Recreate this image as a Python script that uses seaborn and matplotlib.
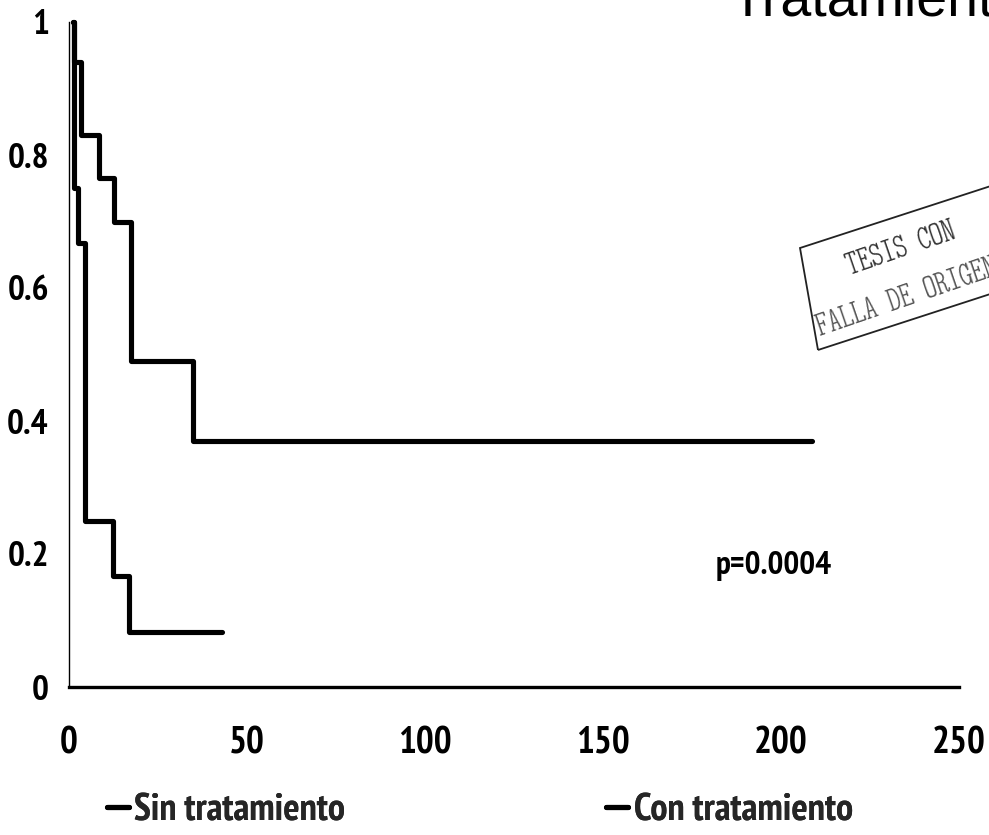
import matplotlib
matplotlib.use("Agg")
import matplotlib.pyplot as plt
from matplotlib.patches import Polygon
import numpy as np
import pandas as pd
import seaborn as sns

# Kaplan-Meier survival estimates (time in days, survival proportion)
sin_time = [1.0, 1.3, 2.4, 4.5, 12.4, 16.9, 43.0]
sin_surv = [1.0, 0.75, 0.667, 0.25, 0.167, 0.083, 0.083]
con_time = [1.0, 1.4, 3.3, 8.5, 12.7, 17.4, 34.8, 208.7]
con_surv = [1.0, 0.94, 0.83, 0.765, 0.70, 0.49, 0.37, 0.37]

series_names = ["Sin tratamiento", "Con tratamiento"]
x_ticks = [0, 50, 100, 150, 200, 250]
y_ticks = [0, 0.2, 0.4, 0.6, 0.8, 1]
y_tick_labels = ["0", "0.2", "0.4", "0.6", "0.8", "1"]
title_text = "Tratamiento"
p_text = "p=0.0004"

sns.set_theme(style="white")
narrow = ["PT Sans Narrow", "DejaVu Sans"]
plt.rcParams["font.family"] = narrow

W, H = 989, 835
fig = plt.figure(figsize=(W / 100, H / 100), dpi=100)
fig.patch.set_facecolor("white")

x0, x1 = 69, 959
y0, y1 = 687, 22
ax = fig.add_axes([x0 / W, 1 - y0 / H, (x1 - x0) / W, (y0 - y1) / H])
ax.set_facecolor("white")

df_sin = pd.DataFrame({"t": sin_time, "s": sin_surv})
df_con = pd.DataFrame({"t": con_time, "s": con_surv})

lw = 3.7
sns.lineplot(data=df_sin, x="t", y="s", ax=ax, estimator=None, sort=False,
             drawstyle="steps-post", color="black", lw=lw,
             label=series_names[0], legend=False, clip_on=False)
sns.lineplot(data=df_con, x="t", y="s", ax=ax, estimator=None, sort=False,
             drawstyle="steps-post", color="black", lw=lw,
             label=series_names[1], legend=False, clip_on=False)

ax.set_xlim(0, 250)
ax.set_ylim(0, 1)
ax.set_xlabel("")
ax.set_ylabel("")

for side in ("top", "right"):
    ax.spines[side].set_visible(False)
ax.spines["left"].set_linewidth(1.0)
ax.spines["left"].set_color("black")
ax.spines["bottom"].set_linewidth(2.4)
ax.spines["bottom"].set_color("black")

ax.set_xticks(x_ticks)
ax.set_xticklabels([str(v) for v in x_ticks],
                   fontdict=dict(family=narrow, weight="bold", size=27))
ax.set_yticks(y_ticks)
ax.set_yticklabels(y_tick_labels,
                   fontdict=dict(family=narrow, weight="bold", size=25.5))
ax.tick_params(axis="x", direction="inout", length=25, width=0.7,
               color="#888888", pad=16, labelcolor="black")
ax.tick_params(axis="y", direction="inout", length=12, width=0.7,
               color="#888888", pad=8.5, labelcolor="black")
ax.grid(False)

ax.text(181.7, 0.182, p_text, ha="left", va="center",
        family=narrow, weight="bold", size=24, color="black")

# Legend entries along the bottom
handles = ax.get_lines()
leg_pos = [(107, 811), (606, 811)]
for h, name, (lx, ly) in zip(handles, series_names, leg_pos):
    lg = fig.legend(handles=[h], labels=[name], loc="center left",
                    bbox_to_anchor=(lx / W, 1 - ly / H), frameon=False,
                    handlelength=0.58, handletextpad=0.14, borderpad=0,
                    borderaxespad=0,
                    prop=dict(family=narrow, weight="bold", size=27.5))
    fig.add_artist(lg)

# Title, running off the top-right edge
fig.text(731 / W, 1 - 16 / H, title_text, ha="left", va="baseline",
         family=["Liberation Sans", "DejaVu Sans"], size=40, color="black")

# Rubber stamp
ang = np.deg2rad(18)
L = 420
bl = np.array([818, 350])
tl = np.array([800, 248])
d = np.array([np.cos(ang), -np.sin(ang)])
corners = [bl, tl, tl + L * d, bl + L * d]
poly = Polygon([(cx / W, 1 - cy / H) for cx, cy in corners], closed=True,
               fill=False, edgecolor="#222222", lw=1.3,
               transform=fig.transFigure)
fig.add_artist(poly)
stamp_font = ["Latin Modern Mono Light Cond", "DejaVu Serif"]
fig.text(901 / W, 1 - 250 / H, "TESIS CON", ha="center", va="center",
         rotation=19, rotation_mode="anchor", size=26, color="#333333",
         family=stamp_font)
fig.text(820 / W, 1 - 336 / H, "FALLA DE ORIGEN", ha="left", va="baseline",
         rotation=19, rotation_mode="anchor", size=26, color="#555555",
         family=stamp_font)

fig.savefig("out.png", dpi=100, facecolor="white")
